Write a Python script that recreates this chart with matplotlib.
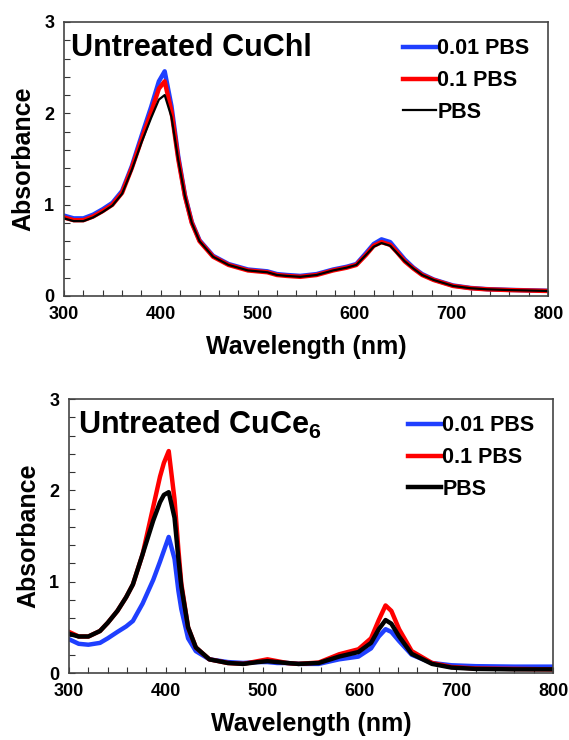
#!/usr/bin/env python3
"""UV-vis absorbance of untreated CuChl and CuCe6 in PBS dilutions"""
import matplotlib
matplotlib.use("Agg")
import matplotlib.pyplot as plt
from matplotlib.ticker import MultipleLocator

plt.rcParams["font.family"] = ["Liberation Sans", "DejaVu Sans"]
plt.rcParams["font.weight"] = "bold"
plt.rcParams["mathtext.fontset"] = "custom"
plt.rcParams["mathtext.rm"] = "Liberation Sans:bold"
plt.rcParams["mathtext.bf"] = "Liberation Sans:bold"

# CuChl spectra
wl_chl = [300, 310, 320, 330, 340, 350, 360, 370, 380, 390, 398, 404, 411, 418,
          425, 432, 440, 454, 470, 480, 490, 500, 510, 520, 530, 544, 561, 578,
          592, 602, 612, 620, 628, 637, 644, 652, 661, 670, 682, 702, 720, 737,
          760, 800]
chl_pbs = [0.85, 0.82, 0.82, 0.86, 0.92, 0.99, 1.12, 1.38, 1.68, 1.95, 2.15, 2.20,
           1.96, 1.49, 1.09, 0.80, 0.60, 0.43, 0.34, 0.31, 0.28, 0.27, 0.26, 0.23,
           0.22, 0.21, 0.23, 0.28, 0.31, 0.34, 0.45, 0.54, 0.58, 0.55, 0.47, 0.38,
           0.30, 0.23, 0.175, 0.11, 0.085, 0.073, 0.065, 0.055]
chl_001 = [0.88, 0.85, 0.85, 0.89, 0.95, 1.02, 1.15, 1.42, 1.75, 2.07, 2.35, 2.46,
           2.08, 1.53, 1.10, 0.81, 0.61, 0.44, 0.35, 0.32, 0.29, 0.28, 0.27, 0.24,
           0.23, 0.22, 0.24, 0.29, 0.32, 0.35, 0.47, 0.57, 0.62, 0.59, 0.50, 0.40,
           0.31, 0.24, 0.18, 0.115, 0.088, 0.075, 0.067, 0.057]
chl_01 = [0.86, 0.83, 0.83, 0.87, 0.93, 1.00, 1.13, 1.40, 1.71, 2.01, 2.27, 2.35,
          2.02, 1.50, 1.09, 0.80, 0.60, 0.43, 0.34, 0.31, 0.28, 0.27, 0.26, 0.23,
          0.22, 0.21, 0.23, 0.28, 0.31, 0.34, 0.45, 0.55, 0.59, 0.56, 0.48, 0.38,
          0.30, 0.23, 0.175, 0.11, 0.085, 0.073, 0.065, 0.055]

# CuCe6 spectra
wl_ce6 = [300, 310, 320, 332, 340, 350, 359, 366, 376, 387, 394, 398, 403, 409,
          413, 416, 423, 431, 445, 464, 480, 495, 505, 515, 525, 537, 558, 579,
          599, 612, 620, 627, 633, 641, 654, 675, 695, 720, 760, 800]
ce6_01 = [0.45, 0.40, 0.40, 0.46, 0.55, 0.68, 0.83, 0.97, 1.30, 1.82, 2.15, 2.30,
          2.43, 1.90, 1.35, 0.98, 0.50, 0.28, 0.15, 0.11, 0.10, 0.13, 0.15, 0.13,
          0.11, 0.10, 0.115, 0.205, 0.26, 0.38, 0.58, 0.74, 0.68, 0.48, 0.24, 0.11,
          0.066, 0.05, 0.045, 0.04]
ce6_pbs = [0.43, 0.40, 0.40, 0.46, 0.55, 0.68, 0.83, 0.97, 1.30, 1.67, 1.87, 1.95,
           1.98, 1.70, 1.25, 0.95, 0.50, 0.28, 0.15, 0.11, 0.10, 0.12, 0.13, 0.12,
           0.11, 0.10, 0.11, 0.18, 0.23, 0.33, 0.48, 0.58, 0.54, 0.40, 0.21, 0.10,
           0.06, 0.045, 0.04, 0.04]
ce6_001 = [0.37, 0.32, 0.31, 0.33, 0.38, 0.45, 0.51, 0.57, 0.76, 1.02, 1.22, 1.34,
           1.49, 1.25, 0.90, 0.70, 0.38, 0.24, 0.15, 0.12, 0.11, 0.12, 0.12, 0.11,
           0.11, 0.10, 0.10, 0.15, 0.18, 0.27, 0.40, 0.48, 0.45, 0.35, 0.20, 0.11,
           0.085, 0.075, 0.07, 0.07]

labels = ["0.01 PBS", "0.1 PBS", "PBS"]
colors = ["#1f3fff", "#ff0000", "#000000"]


def style(ax, leg_xy):
    ax.set_xlim(300, 800); ax.set_ylim(0, 3)
    ax.xaxis.set_major_locator(MultipleLocator(100))
    ax.xaxis.set_minor_locator(MultipleLocator(20))
    ax.yaxis.set_major_locator(MultipleLocator(1))
    ax.yaxis.set_minor_locator(MultipleLocator(0.2))
    ax.tick_params(which="both", direction="in", top=False, right=False,
                   length=4, width=0.8, color="#333333")
    ax.tick_params(which="major", labelsize=13, pad=7)
    for s in ax.spines.values():
        s.set_color("#444444"); s.set_linewidth(1.2)
    ax.set_xlabel("Wavelength (nm)", fontsize=18, fontweight="bold", labelpad=9)
    ax.set_ylabel("Absorbance", fontsize=18, fontweight="bold", labelpad=6)
    ax.legend(loc="upper left", bbox_to_anchor=leg_xy, frameon=False,
              fontsize=15.5, handlelength=1.55, handletextpad=0.05,
              labelspacing=0.5, borderaxespad=0, borderpad=0)


fig = plt.figure(figsize=(5.69, 7.40), dpi=100)
ax1 = fig.add_axes([0.1125, 0.60, 0.8506, 0.3703])
ax2 = fig.add_axes([0.1213, 0.0905, 0.8506, 0.3703])

ax1.plot(wl_chl, chl_001, color=colors[0], lw=3.2, label=labels[0])
ax1.plot(wl_chl, chl_01, color=colors[1], lw=3.2, label=labels[1])
ax1.plot(wl_chl, chl_pbs, color=colors[2], lw=1.6, label=labels[2])
ax1.text(0.015, 0.905, "Untreated CuChl", transform=ax1.transAxes,
         fontsize=22, fontweight="bold", va="center", ha="left")
style(ax1, (0.70, 0.94))

ax2.plot(wl_ce6, ce6_001, color=colors[0], lw=3.2, label=labels[0])
ax2.plot(wl_ce6, ce6_01, color=colors[1], lw=3.2, label=labels[1])
ax2.plot(wl_ce6, ce6_pbs, color=colors[2], lw=3.2, label=labels[2])
ax2.text(0.018, 0.905, r"Untreated CuCe$_{\mathbf{6}}$", transform=ax2.transAxes,
         fontsize=22, fontweight="bold", va="center", ha="left")
style(ax2, (0.70, 0.94))

fig.savefig("out.png", dpi=100)
